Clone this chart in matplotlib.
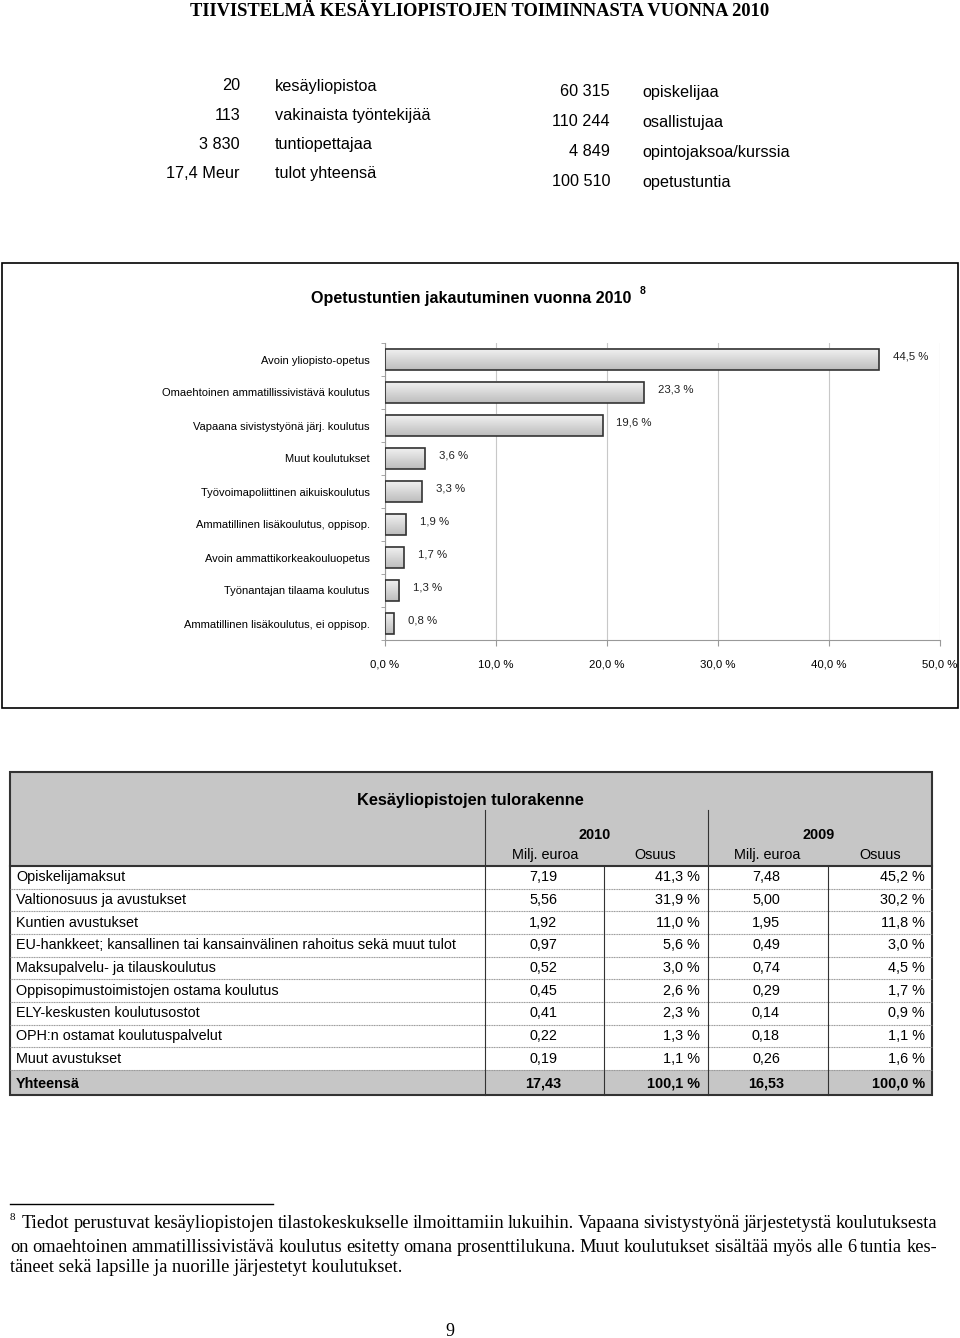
import numpy as np
import matplotlib
matplotlib.use('Agg')
import matplotlib.pyplot as plt
from matplotlib.patches import Rectangle

W, H = 960, 1338
SANS = ['Liberation Sans', 'DejaVu Sans']
SERIF = ['Liberation Serif', 'DejaVu Serif']

# --- tiivistelmä ---
left_vals = ['20', '113', '3 830', '17,4 Meur']
left_labels = ['kesäyliopistoa', 'vakinaista työntekijää', 'tuntiopettajaa', 'tulot yhteensä']
right_vals = ['60 315', '110 244', '4 849', '100 510']
right_labels = ['opiskelijaa', 'osallistujaa', 'opintojaksoa/kurssia', 'opetustuntia']

# --- opetustuntien jakautuminen ---
categories = ['Avoin yliopisto-opetus', 'Omaehtoinen ammatillissivistävä koulutus',
              'Vapaana sivistystyönä järj. koulutus', 'Muut koulutukset',
              'Työvoimapoliittinen aikuiskoulutus', 'Ammatillinen lisäkoulutus, oppisop.',
              'Avoin ammattikorkeakouluopetus', 'Työnantajan tilaama koulutus',
              'Ammatillinen lisäkoulutus, ei oppisop.']
shares = [44.5, 23.3, 19.6, 3.6, 3.3, 1.9, 1.7, 1.3, 0.8]
xticks = [0, 10, 20, 30, 40, 50]

# --- tulorakenne ---
income_rows = ['Opiskelijamaksut', 'Valtionosuus ja avustukset', 'Kuntien avustukset',
               'EU-hankkeet; kansallinen tai kansainvälinen rahoitus sekä muut tulot',
               'Maksupalvelu- ja tilauskoulutus', 'Oppisopimustoimistojen ostama koulutus',
               'ELY-keskusten koulutusostot', 'OPH:n ostamat koulutuspalvelut', 'Muut avustukset']
milj_2010 = [7.19, 5.56, 1.92, 0.97, 0.52, 0.45, 0.41, 0.22, 0.19]
osuus_2010 = [41.3, 31.9, 11.0, 5.6, 3.0, 2.6, 2.3, 1.3, 1.1]
milj_2009 = [7.48, 5.00, 1.95, 0.49, 0.74, 0.29, 0.14, 0.18, 0.26]
osuus_2009 = [45.2, 30.2, 11.8, 3.0, 4.5, 1.7, 0.9, 1.1, 1.6]
total_2010, total_osuus_2010 = 17.43, 100.1
total_2009, total_osuus_2009 = 16.53, 100.0

footnote = ['Tiedot perustuvat kesäyliopistojen tilastokeskukselle ilmoittamiin lukuihin. Vapaana sivistystyönä järjestetystä koulutuksesta',
            'on omaehtoinen ammatillissivistävä koulutus esitetty omana prosenttilukuna. Muut koulutukset sisältää myös alle 6 tuntia kes-',
            'täneet sekä lapsille ja nuorille järjestetyt koulutukset.']


def fi(v, d):
    return f'{v:.{d}f}'.replace('.', ',')


fig = plt.figure(figsize=(W / 100, H / 100), dpi=100)
page = fig.add_axes([0, 0, 1, 1])
page.set_xlim(0, W)
page.set_ylim(H, 0)
page.axis('off')


def justify(x0, x1, y, line, **kw):
    # spread the words of one line so it fills x0..x1
    r = fig.canvas.get_renderer()
    words = line.split(' ')
    texts = [page.text(0, y, w, ha='left', va='center', **kw) for w in words]
    widths = [t.get_window_extent(r).width for t in texts]
    gap = (x1 - x0 - sum(widths)) / (len(words) - 1)
    x = x0
    for t, w in zip(texts, widths):
        t.set_x(x)
        x += w + gap


page.text(480, 12, 'TIIVISTELMÄ KESÄYLIOPISTOJEN TOIMINNASTA VUONNA 2010', family=SERIF,
          weight='bold', fontsize=13.3, ha='center', va='center')

for i in range(4):
    y = 86 + 29.3 * i
    page.text(240, y, left_vals[i], family=SANS, fontsize=11.7, ha='right', va='center')
    page.text(275, y, left_labels[i], family=SANS, fontsize=11.7, ha='left', va='center')
    y = 92 + 30 * i
    page.text(610, y, right_vals[i], family=SANS, fontsize=11.7, ha='right', va='center')
    page.text(642, y, right_labels[i], family=SANS, fontsize=11.7, ha='left', va='center')

# chart frame
page.add_patch(Rectangle((2, 263), 956, 445, fill=False, ec='black', lw=1.2))
page.text(471, 298, 'Opetustuntien jakautuminen vuonna 2010', family=SANS, weight='bold',
          fontsize=11.6, ha='center', va='center')
page.text(640, 291, '8', family=SANS, weight='bold', fontsize=7.5, ha='left', va='center')

ax = fig.add_axes([385 / W, 1 - 640 / H, 555 / W, (640 - 343) / H])
ypos = np.arange(len(categories))
grad = np.linspace(0.95, 0.74, 32).reshape(-1, 1)
for y, v in zip(ypos, shares):
    ax.imshow(grad, cmap='gray', vmin=0, vmax=1, aspect='auto', origin='upper',
              extent=(0, v, y + 0.33, y - 0.33), zorder=2)
ax.barh(ypos, shares, height=0.66, color='none', edgecolor='#333333', lw=1.2, zorder=3)
for y, v in zip(ypos, shares):
    ax.annotate(fi(v, 1) + ' %', xy=(v, y), xytext=(10, 2), textcoords='offset points',
                ha='left', va='center', fontsize=8.2, family=SANS, color='#222222')
ax.set_xlim(0, 50)
ax.set_ylim(len(categories) - 0.5, -0.5)
ax.set_xticks(xticks)
ax.set_xticklabels([fi(t, 1) + ' %' for t in xticks], family=SANS, fontsize=8.2)
ax.set_yticks(ypos)
ax.set_yticklabels(categories, family=SANS, fontsize=8)
ax.set_yticks(np.arange(-0.5, len(categories)), minor=True)
ax.tick_params(axis='y', which='major', length=0, pad=11)
ax.tick_params(axis='y', which='minor', length=3, color='#999999')
ax.tick_params(axis='x', length=4, color='#999999', pad=10)
ax.grid(axis='x', color='#c8c8c8', lw=0.8, zorder=0)
ax.set_axisbelow(True)
for s in ['top', 'right']:
    ax.spines[s].set_visible(False)
for s in ['left', 'bottom']:
    ax.spines[s].set_color('#999999')

# table
tl, tr, ttop, hbot, tbot = 10, 932, 772, 866, 1095
rh = (1070 - hbot) / len(income_rows)
fs = 10.4
page.add_patch(Rectangle((tl, ttop), tr - tl, hbot - ttop, color='#c6c6c6', lw=0))
page.add_patch(Rectangle((tl, 1070), tr - tl, tbot - 1070, color='#c6c6c6', lw=0))
for k in range(1, len(income_rows) + 1):
    yy = hbot + rh * k
    page.plot([tl, tr], [yy, yy], color='#999999', lw=0.8, ls=(0, (1, 0.5)))
page.plot([tl, tr], [hbot, hbot], color='#333333', lw=1.5)
for x in [485, 708]:
    page.plot([x, x], [810, tbot], color='#333333', lw=0.8)
for x in [604, 828]:
    page.plot([x, x], [hbot, tbot], color='#333333', lw=0.8)
page.add_patch(Rectangle((tl, ttop), tr - tl, tbot - ttop, fill=False, ec='#333333', lw=1.5))

page.text(470, 800, 'Kesäyliopistojen tulorakenne', family=SANS, weight='bold', fontsize=11.8,
          ha='center', va='center')
page.text(595, 835, '2010', family=SANS, weight='bold', fontsize=fs, ha='center', va='center')
page.text(819, 835, '2009', family=SANS, weight='bold', fontsize=fs, ha='center', va='center')
for x, t in [(545, 'Milj. euroa'), (655, 'Osuus'), (767, 'Milj. euroa'), (880, 'Osuus')]:
    page.text(x, 855, t, family=SANS, fontsize=fs, ha='center', va='center')

for k, lab in enumerate(income_rows):
    y = hbot + rh * (k + 0.5)
    page.text(16, y, lab, family=SANS, fontsize=fs, ha='left', va='center')
    page.text(543, y, fi(milj_2010[k], 2), family=SANS, fontsize=fs, ha='center', va='center')
    page.text(700, y, fi(osuus_2010[k], 1) + ' %', family=SANS, fontsize=fs, ha='right', va='center')
    page.text(766, y, fi(milj_2009[k], 2), family=SANS, fontsize=fs, ha='center', va='center')
    page.text(925, y, fi(osuus_2009[k], 1) + ' %', family=SANS, fontsize=fs, ha='right', va='center')
y = 1084
page.text(16, y, 'Yhteensä', family=SANS, fontsize=fs, weight='bold', ha='left', va='center')
page.text(543, y, fi(total_2010, 2), family=SANS, fontsize=fs, weight='bold', ha='center', va='center')
page.text(700, y, fi(total_osuus_2010, 1) + ' %', family=SANS, fontsize=fs, weight='bold', ha='right', va='center')
page.text(766, y, fi(total_2009, 2), family=SANS, fontsize=fs, weight='bold', ha='center', va='center')
page.text(925, y, fi(total_osuus_2009, 1) + ' %', family=SANS, fontsize=fs, weight='bold', ha='right', va='center')

# footnote
page.plot([10, 273], [1204, 1204], color='black', lw=1)
page.text(10, 1217, '8', family=SERIF, fontsize=8, ha='left', va='center')
justify(22, 937, 1224, footnote[0], family=SERIF, fontsize=13.2)
justify(10, 937, 1247, footnote[1], family=SERIF, fontsize=13.2)
page.text(10, 1267, footnote[2], family=SERIF, fontsize=13.2, ha='left', va='center')
page.text(450, 1331, '9', family=SERIF, fontsize=13, ha='center', va='center')

fig.savefig('out.png', dpi=100)
